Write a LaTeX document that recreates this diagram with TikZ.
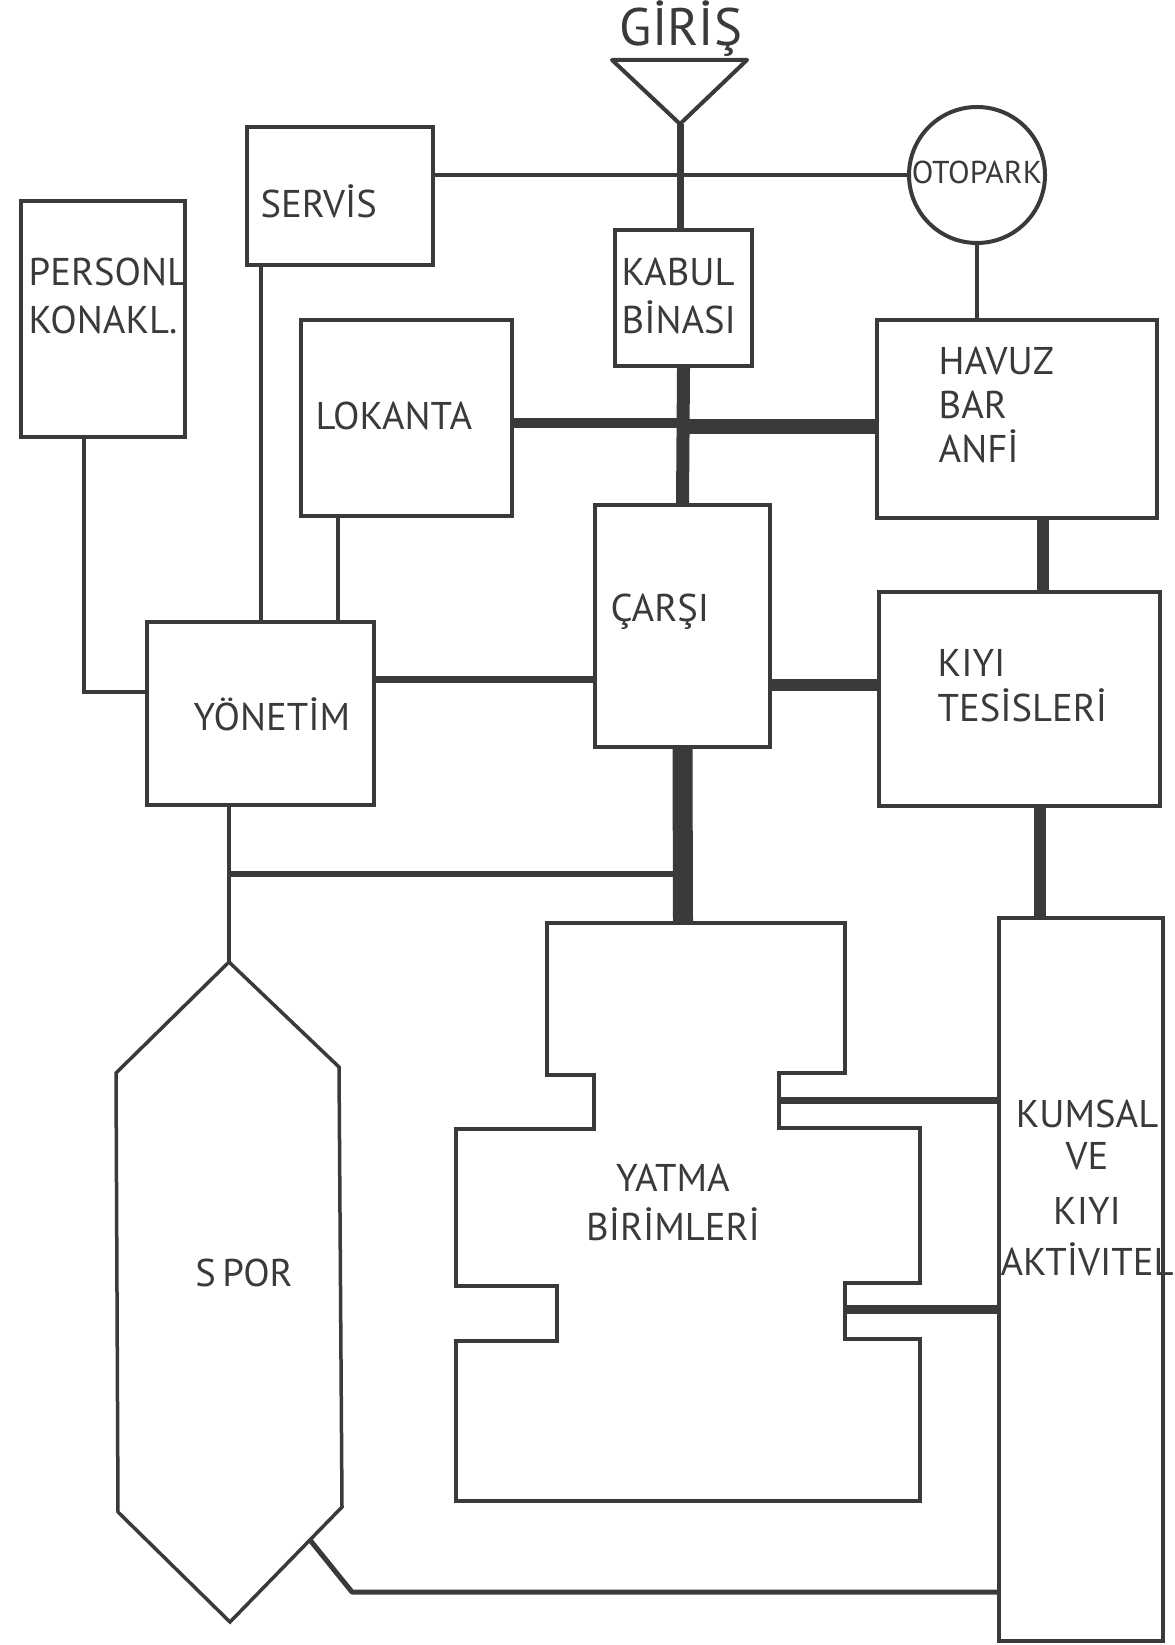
\documentclass[tikz,border=0pt]{standalone}
\usepackage{fontspec}
\setmainfont{PT Sans}
\usetikzlibrary{calc}
\definecolor{ink}{HTML}{3A3A3A}

\begin{document}
\begin{tikzpicture}[x=0.1mm, y=-0.1mm,
    box/.style={draw=ink, line width=0.4mm, inner sep=0pt},
    lbl/.style={text=ink, inner sep=0pt, align=left, font=\fontsize{11}{13.6}\selectfont},
    wire/.style={draw=ink, line width=0.45mm},
    wirem/.style={draw=ink, line width=0.7mm},
    wireb/.style={draw=ink, line width=1.3mm},
    wirex/.style={draw=ink, line width=2mm}]
        \useasboundingbox (0,0) rectangle (1174,1645);
        % giris
        \node[lbl, font=\fontsize{15}{18}\selectfont] (giristxt) at (681,29) {GİRİŞ};
        \draw[box, line join=round] (612,60) -- (747,60) -- (680,124) -- cycle;
        \coordinate (giris) at (680,124);
        % boxes
        \node[box, minimum width=16.4mm, minimum height=23.6mm] (personl) at (103,319) {};
        \node[box, minimum width=18.6mm, minimum height=13.8mm] (servis) at (340,196) {};
        \node[box, circle, minimum size=13.6mm] (otopark) at (977,175) {};
        \node[box, minimum width=13.7mm, minimum height=13.6mm] (kabul) at (683.5,298) {};
        \node[box, minimum width=21.1mm, minimum height=19.6mm] (lokanta) at (406.5,418) {};
        \node[box, minimum width=28mm, minimum height=19.8mm] (havuz) at (1017,419) {};
        \node[box, minimum width=17.5mm, minimum height=24.2mm] (carsi) at (682.5,626) {};
        \node[box, minimum width=28.1mm, minimum height=21.4mm] (kiyi) at (1019.5,699) {};
        \node[box, minimum width=22.7mm, minimum height=18.3mm] (yonetim) at (260.5,713.5) {};
        \node[box, minimum width=16.4mm, minimum height=72.3mm] (kumsal) at (1081,1279.5) {};
        % yatma birimleri
        \draw[box] (547,923) -- (845,923) -- (845,1073) -- (779,1073) -- (779,1128) -- (920,1128)
            -- (920,1283) -- (845,1283) -- (845,1339) -- (920,1339) -- (920,1501) -- (456,1501)
            -- (456,1341) -- (557,1341) -- (557,1286) -- (456,1286) -- (456,1129) -- (594,1129)
            -- (594,1075) -- (547,1075) -- cycle;
        \coordinate (yatma-ust) at (683,923);
        \coordinate (yatma-sag1) at (779,1100);
        \coordinate (yatma-sag2) at (845,1309);
        % spor
        \draw[box, line width=0.35mm] (229,962) -- (339,1067) -- (342,1507) -- (230,1622) -- (118,1512) -- (116,1073) -- cycle;
        \coordinate (spor-tepe) at (229,962);
        \coordinate (spor-sag) at (310,1540);
        \coordinate (spor-dip) at (352,1592);
        \coordinate (kol) at (229,874);
        % labels
        \node[lbl, anchor=west] (personltxt) at (28,296) {PERSONL\\KONAKL.};
        \node[lbl, anchor=west] (servistxt) at (260,201) {SERVİS};
        \node[lbl, font=\fontsize{9}{11}\selectfont] (otoparktxt) at (977,172) {OTOPARK};
        \node[lbl, anchor=west] (kabultxt) at (621,296) {KABUL\\BİNASI};
        \node[lbl, anchor=west] (lokantatxt) at (315,416) {LOKANTA};
        \node[lbl, anchor=west, font=\fontsize{11}{12.6}\selectfont] (havuztxt) at (938,405) {HAVUZ\\BAR\\ANFİ};
        \node[lbl, anchor=west] (carsitxt) at (610,612) {ÇARŞI};
        \node[lbl, anchor=west, font=\fontsize{11}{12.8}\selectfont] (kiyitxt) at (937,686) {KIYI\\TESİSLERİ};
        \node[lbl, anchor=west] (yonetimtxt) at (193,714) {YÖNETİM};
        \node[lbl, align=center, font=\fontsize{11}{14}\selectfont] (yatmatxt) at (673,1202) {YATMA\\BİRİMLERİ};
        \node[lbl, align=center, font=\fontsize{11}{14.5}\selectfont] (kumsaltxt) at (1087,1188) {KUMSAL\\[-0.9mm]VE\\[0.4mm]KIYI\\AKTİVITEL};
        \node[lbl] (sportxt) at (244,1273) {S\,POR};
        % connectors
        \draw[wirem] (giris) -- (giris |- kabul.north);
        \draw[wire] (otopark.west -| servis.east) -- (otopark.west);
        \draw[wire] (otopark.south) -- (otopark.south |- havuz.north);
        \draw[wireb] (kabul.south) -- (carsi.north);
        \draw[wirem, line width=1mm] ([yshift=-0.5mm]lokanta.east) -- ([yshift=-0.5mm]lokanta.east -| kabul.south);
        \draw[wireb, line width=1.5mm] ([yshift=-0.8mm]havuz.west -| kabul.south) -- ([yshift=-0.8mm]havuz.west);
        \draw[wireb, line width=1.2mm] ([xshift=2.6mm]havuz.south) -- ([xshift=2.6mm]havuz.south |- kiyi.north);
        \draw[wireb, line width=1.2mm] ([yshift=-5.9mm]carsi.east) -- ([yshift=-5.9mm]carsi.east -| kiyi.west);
        \draw[wirem] ([yshift=3.45mm]yonetim.east) -- ([yshift=3.45mm]yonetim.east -| carsi.west);
        \draw[wire] ([xshift=-7.9mm]servis.south) -- ([xshift=-7.9mm]servis.south |- yonetim.north);
        \draw[wire] ([xshift=-6.85mm]lokanta.south) -- ([xshift=-6.85mm]lokanta.south |- yonetim.north);
        \draw[wire] ([xshift=-1.9mm]personl.south) |- ([yshift=2.15mm]yonetim.west);
        \draw[wirex] (carsi.south) -- (yatma-ust);
        \draw[wireb, line width=1.2mm] ([xshift=2.05mm]kiyi.south) -- ([xshift=2.05mm]kiyi.south |- kumsal.north);
        \draw[wire] (spor-tepe |- yonetim.south) -- (spor-tepe);
        \draw[wirem, line width=0.6mm] (kol) -- (kol -| carsi.south);
        \draw[wirem] (yatma-sag1) -- (yatma-sag1 -| kumsal.west);
        \draw[wirem, line width=0.9mm] (yatma-sag2) -- (yatma-sag2 -| kumsal.west);
        \draw[wirem, line width=0.5mm, line join=round] (spor-sag) -- (spor-dip) -- (spor-dip -| kumsal.west);
      \end{tikzpicture}
\end{document}
